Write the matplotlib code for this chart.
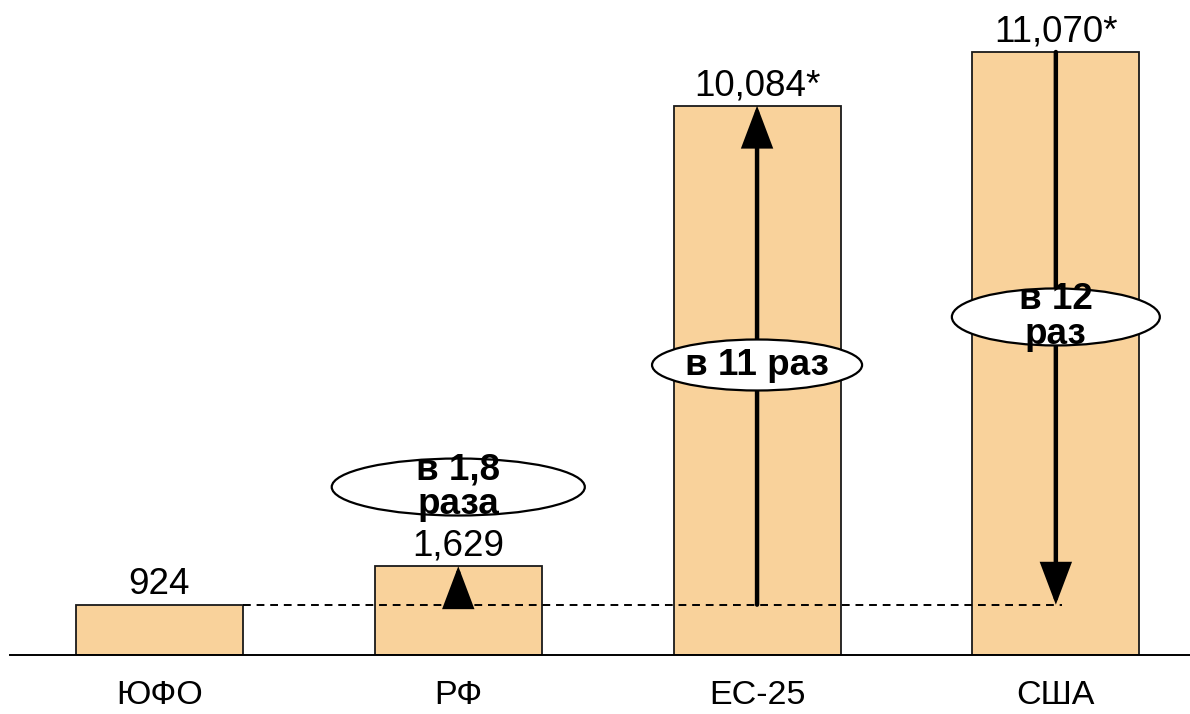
import matplotlib
matplotlib.use("Agg")
import matplotlib.pyplot as plt
from matplotlib.patches import Ellipse

plt.rcParams['font.family'] = ['Liberation Sans', 'DejaVu Sans']

categories = ['ЮФО', 'РФ', 'ЕС-25', 'США']
values = [924, 1629, 10084, 11070]
value_labels = ['924', '1,629', '10,084*', '11,070*']
ratio_labels = ['в 1,8\nраза', 'в 11 раз', 'в 12\nраз']

bar_color = '#F9D29B'
W, H = 1190, 714
fig = plt.figure(figsize=(W / 100, H / 100), dpi=100)
ax = fig.add_axes([10 / W, (H - 655) / H, 1180 / W, 655 / H])

x = list(range(len(categories)))
ax.bar(x, values, width=0.559, color=bar_color, edgecolor='#1a1a1a',
       linewidth=1.3, zorder=1)

ax.set_xlim(-0.5003, 3.449)
ax.set_ylim(0, 12025)

for xi, v, lab in zip(x, values, value_labels):
    ax.annotate(lab, (xi, v), xytext=(0, 7.5), textcoords='offset points',
                ha='center', va='baseline', fontsize=26.5, zorder=5)

# dashed reference line at the ЮФО level
base = values[0]
ax.plot([x[0] + 0.2795, x[3] + 0.02], [base, base], ls=(0, (4, 3)),
        color='black', lw=1.4, zorder=2)

arrow_kw = dict(arrowstyle='-|>,head_length=0.45,head_width=0.17',
                mutation_scale=55, lw=3.2, color='black',
                shrinkA=0, shrinkB=0, joinstyle='miter')
ax.annotate('', xy=(x[1], values[1]), xytext=(x[1], base),
            arrowprops=arrow_kw, zorder=3)
ax.annotate('', xy=(x[2], values[2]), xytext=(x[2], base),
            arrowprops=arrow_kw, zorder=3)
ax.annotate('', xy=(x[3], base), xytext=(x[3], values[3]),
            arrowprops=arrow_kw, zorder=3)

# ellipses: (x center, y center, width, height)
ell_specs = [(x[1], 3084, 0.847, 1046),
             (x[2], 5324, 0.703, 936),
             (x[3], 6206, 0.696, 1046)]
for (cx, cy, ew, eh), txt in zip(ell_specs, ratio_labels):
    e = Ellipse((cx, cy), ew, eh, facecolor='white', edgecolor='black',
                lw=1.6, zorder=4)
    ax.add_patch(e)
    ax.text(cx, cy, txt, ha='center', va='center', fontsize=26.5,
            fontweight='bold', linespacing=1.0, zorder=5)

ax.set_xticks(x)
ax.set_xticklabels(categories, fontsize=24.5)
ax.tick_params(axis='x', length=0, pad=18)
ax.set_yticks([])
for s in ['top', 'right', 'left']:
    ax.spines[s].set_visible(False)
ax.spines['bottom'].set_linewidth(1.4)
ax.spines['bottom'].set_zorder(6)

fig.savefig('out.png', dpi=100)
